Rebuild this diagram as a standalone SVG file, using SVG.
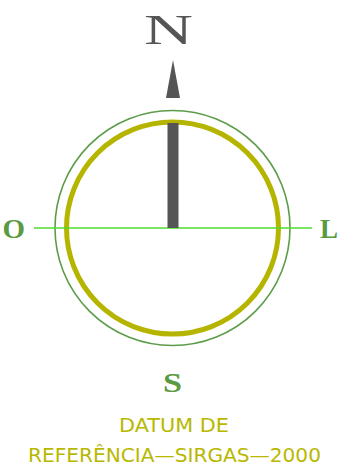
<svg xmlns="http://www.w3.org/2000/svg" width="344" height="474" viewBox="0 0 344 474">
<style>
.lbl{font-family:"Liberation Serif","DejaVu Serif",serif;fill:#5a9a40;font-weight:bold}
.cap{font-family:"DejaVu Sans","Liberation Sans",sans-serif;fill:#b8b800;font-size:20px}
</style>
<rect width="344" height="474" fill="#ffffff"/>
<g id="compass">
<circle cx="172.5" cy="228" r="117.5" fill="none" stroke="#5c9c48" stroke-width="1.6"/>
<circle cx="172.5" cy="228" r="106" fill="none" stroke="#b5b500" stroke-width="5"/>
</g>
<g id="connectors">
<line x1="34" y1="228" x2="312" y2="228" stroke="#4fdc2e" stroke-width="1.6"/>
<rect x="167.5" y="123" width="11" height="105" fill="#555555"/>
<polygon points="173,60 166,98 180,98" fill="#555555"/>
</g>
<g id="north"><text x="168.5" y="44" text-anchor="middle" font-family="Liberation Serif,DejaVu Serif,serif" font-size="42" fill="#555555" textLength="49" lengthAdjust="spacingAndGlyphs">N</text></g>
<g id="west"><text class="lbl" x="2.5" y="237.5" font-size="28" textLength="22.5" lengthAdjust="spacingAndGlyphs">O</text></g>
<g id="east"><text class="lbl" x="320" y="237.5" font-size="27" textLength="18" lengthAdjust="spacingAndGlyphs">L</text></g>
<g id="south"><text class="lbl" x="163" y="392" font-size="28" textLength="19" lengthAdjust="spacingAndGlyphs">S</text></g>
<g id="caption">
<text class="cap" x="119" y="432" textLength="110" lengthAdjust="spacingAndGlyphs">DATUM  DE</text>
<text class="cap" x="28" y="461.5" textLength="293" lengthAdjust="spacingAndGlyphs">REFERÊNCIA—SIRGAS—2000</text>
</g>
</svg>
